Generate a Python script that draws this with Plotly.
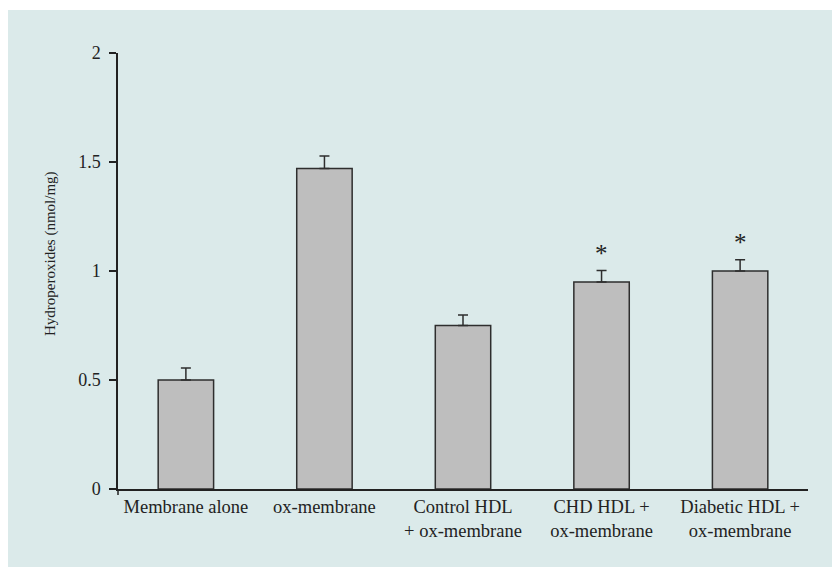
import plotly.graph_objects as go

# Lipid hydroperoxide content of membranes after incubation
categories = [
    "Membrane alone",
    "ox-membrane",
    "Control HDL<br>+ ox-membrane",
    "CHD HDL +<br>ox-membrane",
    "Diabetic HDL +<br>ox-membrane",
]
values = [0.50, 1.47, 0.75, 0.95, 1.00]
errors = [0.055, 0.057, 0.048, 0.052, 0.052]
significant = [False, False, False, True, True]
y_ticks = [0, 0.5, 1, 1.5, 2]
y_tick_labels = ["0", "0.5", "1", "1.5", "2"]

W, H = 832, 567
ML, MR, MT, MB = 118, 24, 53, 78
PW, PH = W - ML - MR, H - MT - MB

def px_x(px):
    return (px - ML) / PW

def px_y(py):
    return (H - MB - py) / PH

FONT = "Liberation Serif"
INK = "#222222"
PANEL = "#dbeaea"

x = list(range(len(categories)))

fig = go.Figure()
fig.add_trace(go.Bar(
    x=x,
    y=values,
    width=0.4,
    marker=dict(color="#bebebe", line=dict(color="#2e2e2e", width=1.5)),
    error_y=dict(
        type="data", array=errors, arrayminus=[0] * len(errors),
        symmetric=False, color="#2e2e2e", thickness=1.5, width=5,
    ),
    showlegend=False,
    hoverinfo="skip",
))

annotations = []
for xi, v, e, s in zip(x, values, errors, significant):
    if s:
        annotations.append(dict(
            x=xi, y=v + e, xref="x", yref="y", text="*", showarrow=False,
            yanchor="bottom", yshift=2, font=dict(family=FONT, size=25, color=INK),
        ))

annotations.append(dict(
    x=px_x(51), y=px_y(254), xref="paper", yref="paper",
    text="Hydroperoxides (nmol/mg)", showarrow=False, textangle=-90,
    xanchor="center", yanchor="middle",
    font=dict(family=FONT, size=15, color=INK),
))

shapes = [
    # light panel behind the chart
    dict(type="rect", xref="paper", yref="paper", layer="below",
         x0=px_x(8), x1=px_x(W + 2), y0=px_y(H + 2), y1=px_y(10),
         fillcolor=PANEL, line=dict(width=0)),
    # y-axis line running slightly past the baseline
    dict(type="line", xref="paper", yref="paper",
         x0=0, x1=0, y0=0, y1=px_y(H - MB + 6),
         line=dict(color=INK, width=1.5)),
]

fig.update_layout(
    width=W, height=H,
    margin=dict(l=ML, r=MR, t=MT, b=MB, pad=0),
    paper_bgcolor="white",
    plot_bgcolor="rgba(0,0,0,0)",
    font=dict(family=FONT, size=18, color=INK),
    annotations=annotations,
    shapes=shapes,
    xaxis=dict(
        range=[-0.49, 4.49],
        tickmode="array", tickvals=x, ticktext=categories,
        showline=True, linecolor=INK, linewidth=1.5,
        ticks="", showgrid=False, zeroline=False,
        tickfont=dict(family=FONT, size=18.5, color=INK),
        fixedrange=True,
    ),
    yaxis=dict(
        range=[0, 2],
        tickmode="array", tickvals=y_ticks, ticktext=y_tick_labels,
        showline=True, linecolor=INK, linewidth=1.5,
        ticks="outside", ticklen=7, tickwidth=1.5, tickcolor=INK,
        ticklabelstandoff=5,
        showgrid=False, zeroline=False,
        tickfont=dict(family=FONT, size=18, color=INK),
        fixedrange=True,
    ),
)

fig.write_html("out.html")
